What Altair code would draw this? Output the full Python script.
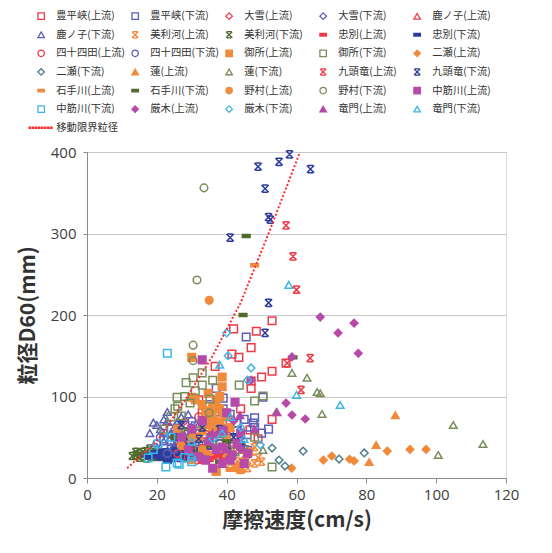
import altair as alt
import pandas as pd

# ---------------- data ----------------
HOHEIKYO_UP = [(53,193),(48.5,180),(47,160),(42,183),(41.5,152),(43.5,148),(53,131),(50,124),(47,110),(57,141),(53,72),(47,119),(36.7,137),(32,96),(41,71),(46.7,59),(35,40),(28,55),(38,25),(42,42),(45,35),(38,65),(33,80),(44,85),(49,48)]
HOHEIKYO_DN = [(45.6,173),(37,110),(39,98),(36.7,81),(43,67.5),(47.6,67.5),(50.4,99),(45.8,53),(48,74),(24,60),(26,55),(28,65),(30,50),(32,45),(34,58),(27,42),(22,48),(36,40),(38,52),(40,60),(42,48),(44,40),(33,35),(29,38),(35,90),(39,85),(41,78),(43,58),(45,72),(48,62),(50,55),(52,60),(40,30),(46,34),(31,64),(26,45)]
TAISETSU_UP = [(26,45),(30,30),(35,60),(40,42),(28,70)]
TAISETSU_DN = [(24,38),(29,50),(33,28),(37,62),(42,30)]
KANOKO_UP = [(27,55),(31,36),(36,70),(25,25)]
KANOKO_DN = [(19,68),(23,81),(21,60),(24,55),(26,70),(28,52),(30,62),(22,45),(25,40),(31,48),(34,70),(27,35),(35,52),(20,38),(18,55),(20,65),(23,70),(25,62),(27,75),(29,78),(32,66),(22,72)]
PIRIKA_UP = [(43,20),(44,15),(45,28),(46,22),(47,32),(48,18),(49,25),(44,10),(42,35),(46,12),(48,38),(41,17),(50,20)]
PIRIKA_DN = [(14,28),(15,30),(16,27),(17,33),(18,29),(19,35),(20,31),(21,26),(16,32),(18,36),(15,25),(20,28),(13,27),(14,32),(17,24),(19,26),(21,30),(22,27)]
CHUBETSU_UP = [(34,26),(36,25),(38,27),(35,22),(39,24),(37,29),(33,20),(40,22)]
CHUBETSU_DN = [(17,28),(18,25),(19,30),(20,27),(21,24),(22,29),(23,26),(24,31),(25,28),(26,24),(27,33),(28,30),(29,27),(30,35),(22,34),(24,22),(26,38),(31,28),(20,32),(23,20),(29,22),(27,36),(25,36),(27,22),(28,36),(32,32),(30,40),(30,24),(26,30),(24,26),(31,35),(28,26)]
SHIJUSHIDA_UP = [(32,75),(31.5,22),(30,40),(34,30),(28,45),(36,55),(26,30),(38,35),(29,25),(33,45),(40,60)]
SHIJUSHIDA_DN = [(21,50),(24,45),(26,52),(28,40),(30,44),(32,55),(25,35),(27,60),(33,40),(36,45),(23,30),(29,32),(20,42),(22,55),(26,65),(30,70),(34,50),(38,42),(40,38)]
GOSHO_UP = [(30,148),(38.7,124),(38.7,112),(38,85),(35,71),(36,63),(34.7,104),(38,69),(35.8,67.5),(30,99),(31,96),(28,40),(32,50),(34,35),(37,10),(43,13),(26,60),(40,50),(36,78),(33,90),(37,95),(39,80),(36,88),(34,82),(40,75),(38,100),(33,58),(41,62)]
GOSHO_DN = [(33,129),(30.4,123),(28.4,117),(33,114),(25.8,99),(29.5,92),(25.2,85),(35.2,97),(43.6,114),(48,94.5),(50.4,100.6),(53,13.5),(33,67.5),(42.4,32),(22,60),(27,76),(38,45),(48,50),(30,35),(24,75),(26,88),(31,107),(36,120),(28,100)]
FUTASE_UP = [(58.6,12),(67.7,22),(70.1,27),(75.2,23),(76.5,21),(86,33),(92.5,35),(97.1,35)]
FUTASE_DN = [(61.9,33),(56.7,14.7),(72.2,23.3),(79.4,30.7),(53,36.8),(55,22)]
HACHISU_UP = [(88.3,77),(82.8,40.5),(80.8,19.6),(35,65),(40,30),(30,55)]
HACHISU_DN = [(58.7,129),(63,123),(65.9,105.5),(66.8,104),(67.3,78.5),(104.9,65),(113.4,41.7),(100.6,28.2),(54.2,81),(50.4,34.4),(45,40)]
KUZURYU_UP = [(57,310),(59,272),(60,231),(63.9,147),(61.3,108),(57.3,141)]
KUZURYU_DN = [(49,382),(55,388),(58,397),(64,379),(51,355),(52,320),(52.5,317),(41,295),(52,215),(51,178),(35,40),(38,60),(42,50),(32,48),(28,45),(30,55),(33,62),(40,40),(44,45),(25,50),(27,65)]
ISHITE_UP = [(48,261),(41,10),(37,5),(44,8),(30,20),(35,30),(39,40)]
ISHITE_DN = [(45.6,297),(44.7,200),(59,148),(29,60),(35,40),(40,45),(32,30),(25,50),(38,20)]
NOMURA_UP = [(35,218),(30,50),(33,35),(27,40)]
NOMURA_DN = [(33.5,356),(31.5,243),(30.4,163),(30.4,144),(28,55),(35,80)]
NAKASUJI_UP = [(33,145),(42.4,93),(31.8,26),(41,22),(38.7,38),(38.7,18),(41.5,28),(35,45),(30,60),(44,55),(27,50),(33,70),(40,80),(46,30),(36,12),(34,22),(37,35),(43,42),(29,35),(45,18),(39,58)]
NAKASUJI_DN = [(23,153),(22.6,13.5),(26.4,17),(20.3,41.7),(25.8,18.4),(17.5,24.5),(19,35),(28,25),(30,20),(24,50)]
KYURAGI_UP = [(66.8,197.5),(71.9,178),(76.5,190),(77.7,153),(58.7,148.5),(57,92),(58.7,77.3),(62.5,72.4),(47,120),(38,55),(44,35),(42,70)]
KYURAGI_DN = [(40,178),(40.4,150),(47,135),(46,120),(49.6,40.5),(30,25),(36,48),(44,62)]
RYUMON_UP = [(54.4,80.7),(43.8,77),(36,55),(40,35),(48,60)]
RYUMON_DN = [(57.8,237),(38,139),(60,102),(72.5,89.6),(41,75),(38.7,55),(45,48),(30,45)]

LIMIT_X = [11.5, 20, 28, 36, 44, 52, 61]
LIMIT_Y = [12, 45, 95, 150, 215, 300, 400]

X_TICKS = [0, 20, 40, 60, 80, 100, 120]
Y_TICKS = [0, 100, 200, 300, 400]

# ---------------- styles ----------------
RED = "#ee3b47"; PUR = "#5b5fb8"; NAVY = "#2c3c9c"; ORG = "#f08a3c"
OLV = "#7b8d5c"; DGR = "#4f6b2c"; TEAL = "#4d7f8c"; MAG = "#b64aa8"; LBL = "#3db5e6"
T = "transparent"
PAD = "M-3.8,0 "   # equal left bound for every legend symbol
SQ = PAD + "M-1,-1H1V1H-1Z"
DI = PAD + "M-1,0L0,-1L1,0L0,1Z"
TR = PAD + "M0,-0.87L1,0.87L-1,0.87Z"
CI = PAD + "M1,0A1,1,0,1,1,-1,0A1,1,0,1,1,1,0Z"
DASH = PAD + "M-1,-0.38H1V0.38H-1Z"
XSTAR = PAD + "M-0.95,-0.95L0.95,0.95M0.95,-0.95L-0.95,0.95M-0.7,-0.95H0.7M-0.7,0.95H0.7"
DOTS = PAD + " ".join(f"M{-3.7 + i*0.95:.2f},-0.2h0.4v0.4h-0.4Z" for i in range(8))

SERIES = [
    ("豊平峡(上流)", HOHEIKYO_UP, RED, T, SQ),
    ("豊平峡(下流)", HOHEIKYO_DN, PUR, T, SQ),
    ("大雪(上流)", TAISETSU_UP, RED, T, DI),
    ("大雪(下流)", TAISETSU_DN, PUR, T, DI),
    ("鹿ノ子(上流)", KANOKO_UP, RED, T, TR),
    ("鹿ノ子(下流)", KANOKO_DN, PUR, T, TR),
    ("美利河(上流)", PIRIKA_UP, ORG, T, XSTAR),
    ("美利河(下流)", PIRIKA_DN, DGR, T, XSTAR),
    ("忠別(上流)", CHUBETSU_UP, RED, RED, DASH),
    ("忠別(下流)", CHUBETSU_DN, NAVY, NAVY, DASH),
    ("四十四田(上流)", SHIJUSHIDA_UP, RED, T, CI),
    ("四十四田(下流)", SHIJUSHIDA_DN, PUR, T, CI),
    ("御所(上流)", GOSHO_UP, ORG, ORG, SQ),
    ("御所(下流)", GOSHO_DN, OLV, T, SQ),
    ("二瀬(上流)", FUTASE_UP, ORG, ORG, DI),
    ("二瀬(下流)", FUTASE_DN, TEAL, T, DI),
    ("蓮(上流)", HACHISU_UP, ORG, ORG, TR),
    ("蓮(下流)", HACHISU_DN, OLV, T, TR),
    ("九頭竜(上流)", KUZURYU_UP, RED, T, XSTAR),
    ("九頭竜(下流)", KUZURYU_DN, NAVY, T, XSTAR),
    ("石手川(上流)", ISHITE_UP, ORG, ORG, DASH),
    ("石手川(下流)", ISHITE_DN, DGR, DGR, DASH),
    ("野村(上流)", NOMURA_UP, ORG, ORG, CI),
    ("野村(下流)", NOMURA_DN, OLV, T, CI),
    ("中筋川(上流)", NAKASUJI_UP, MAG, MAG, SQ),
    ("中筋川(下流)", NAKASUJI_DN, LBL, T, SQ),
    ("厳木(上流)", KYURAGI_UP, MAG, MAG, DI),
    ("厳木(下流)", KYURAGI_DN, LBL, T, DI),
    ("竜門(上流)", RYUMON_UP, MAG, MAG, TR),
    ("竜門(下流)", RYUMON_DN, LBL, T, TR),
]
LIMIT_NAME = "移動限界粒径"

names = [s[0] for s in SERIES] + [LIMIT_NAME]
strokes = [s[2] for s in SERIES] + ["#ff2a2a"]
fills = [s[3] for s in SERIES] + ["#ff2a2a"]
shapes = [s[4] for s in SERIES] + [DOTS]

rows = []
for name, pts, *_ in SERIES:
    for x, y in pts:
        rows.append({"series": name, "x": x, "y": y})
pts_df = pd.DataFrame(rows)
line_df = pd.DataFrame({"x": LIMIT_X, "y": LIMIT_Y})

FONT = "Noto Sans CJK JP"
NUMFONT = "Open Sans"

xscale = alt.Scale(domain=[0, 120], nice=False, zero=True)
yscale = alt.Scale(domain=[0, 400], nice=False)

legend = alt.Legend(
    orient="none", legendX=-51, legendY=-141, columns=5, direction="horizontal",
    title=None, gridAlign="all", symbolLimit=60, labelFont=FONT, labelFontSize=10.3,
    labelColor="#333333", symbolSize=42, symbolStrokeWidth=1.3,
    labelOffset=10, columnPadding=-6, rowPadding=6.6, labelLimit=200,
)

points = alt.Chart(pts_df).mark_point(opacity=1, size=58, strokeWidth=1.5).encode(
    x=alt.X("x:Q", scale=xscale, axis=alt.Axis(
        values=X_TICKS, title="摩擦速度(cm/s)", grid=False, domainColor="#8c8c8c",
        tickColor="#8c8c8c", tickSize=5, labelFont=NUMFONT, labelFontSize=15,
        labelColor="#404040", labelPadding=4, labelFlush=False, titleFont=FONT,
        titleFontSize=21, titleFontWeight="bold", titleColor="#333333", titlePadding=7)),
    y=alt.Y("y:Q", scale=yscale, axis=alt.Axis(
        values=Y_TICKS, title="粒径D60(mm)", grid=True, gridColor="#c8c8c8",
        domainColor="#8c8c8c", tickColor="#8c8c8c", tickSize=4,
        labelFont=NUMFONT, labelFontSize=15, labelColor="#404040", labelPadding=7,
        titleFont=FONT, titleFontSize=21, titleFontWeight="bold",
        titleColor="#333333", titlePadding=12)),
    stroke=alt.Stroke("series:N", scale=alt.Scale(domain=names, range=strokes), legend=legend),
    fill=alt.Fill("series:N", scale=alt.Scale(domain=names, range=fills), legend=legend),
    shape=alt.Shape("series:N", scale=alt.Scale(domain=names, range=shapes), legend=legend),
)

line = alt.Chart(line_df).mark_line(color="#ff2a2a", strokeDash=[2, 2], strokeWidth=2).encode(
    x=alt.X("x:Q", scale=xscale), y=alt.Y("y:Q", scale=yscale),
)

chart = alt.layer(points, line).properties(
    width=419, height=326,
    autosize=alt.AutoSizeParams(type="none"),
    padding={"left": 79, "top": 144, "right": 30, "bottom": 60},
).configure_view(stroke=None).configure(background="white")

chart.save("out.html", embed_options={"renderer": "svg", "actions": False})
